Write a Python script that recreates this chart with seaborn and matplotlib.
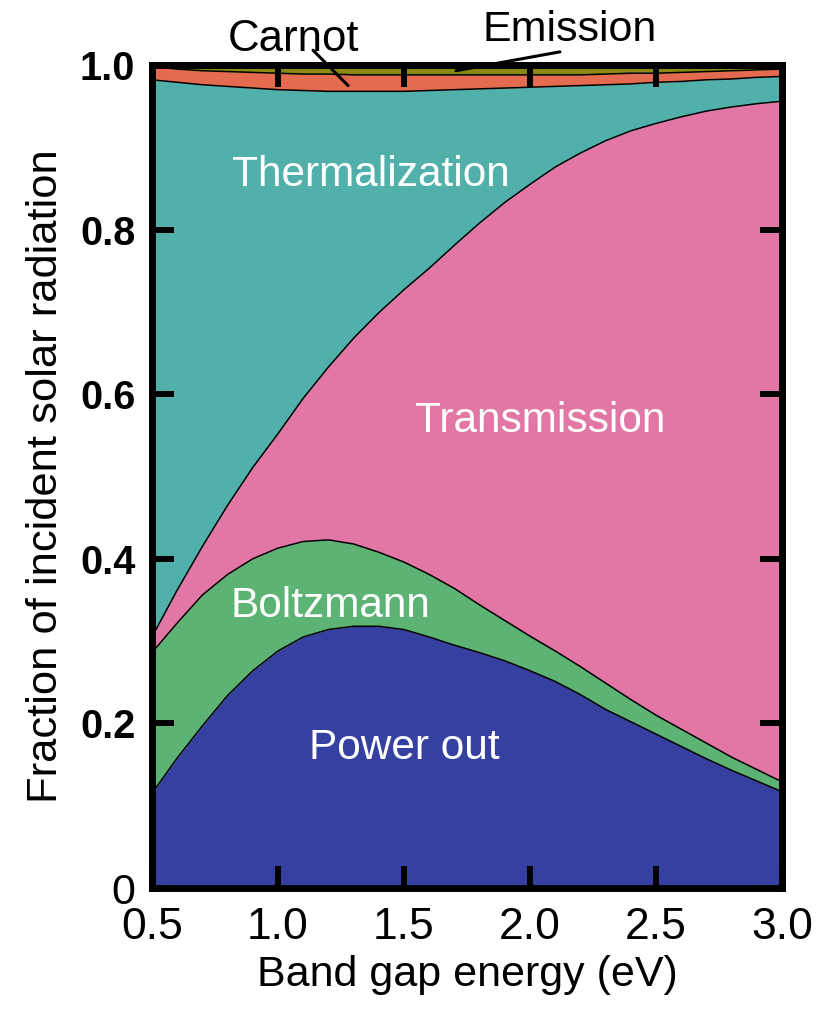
import matplotlib
matplotlib.use("Agg")
import matplotlib.pyplot as plt
import numpy as np
import pandas as pd
import seaborn as sns

# Band gap energies (eV)
band_gap = [0.5, 0.6, 0.7, 0.8, 0.9, 1.0, 1.1, 1.2, 1.3, 1.4, 1.5, 1.6, 1.7,
            1.8, 1.9, 2.0, 2.1, 2.2, 2.3, 2.4, 2.5, 2.6, 2.7, 2.8, 2.9, 3.0]

# Cumulative upper edge of each loss band (fraction of incident radiation)
power_out = [0.115, 0.158, 0.197, 0.234, 0.264, 0.288, 0.305, 0.314, 0.318,
             0.318, 0.314, 0.305, 0.295, 0.286, 0.276, 0.264, 0.251, 0.235,
             0.217, 0.202, 0.187, 0.172, 0.157, 0.143, 0.130, 0.117]
boltzmann_top = [0.286, 0.322, 0.356, 0.381, 0.400, 0.413, 0.421, 0.423,
                 0.418, 0.408, 0.396, 0.381, 0.364, 0.344, 0.325, 0.306,
                 0.288, 0.269, 0.249, 0.229, 0.210, 0.193, 0.176, 0.159,
                 0.144, 0.129]
transmission_top = [0.305, 0.362, 0.415, 0.465, 0.511, 0.552, 0.595, 0.633,
                    0.668, 0.699, 0.727, 0.753, 0.781, 0.808, 0.833, 0.855,
                    0.876, 0.893, 0.908, 0.920, 0.929, 0.937, 0.944, 0.949,
                    0.953, 0.956]
thermalization_top = [0.982, 0.979, 0.976, 0.974, 0.972, 0.970, 0.969, 0.968,
                      0.968, 0.968, 0.968, 0.969, 0.970, 0.971, 0.972, 0.973,
                      0.974, 0.975, 0.976, 0.977, 0.979, 0.980, 0.982, 0.983,
                      0.985, 0.986]
carnot_top = [0.998, 0.995, 0.993, 0.992, 0.991, 0.990, 0.989, 0.989, 0.988,
              0.988, 0.988, 0.988, 0.988, 0.988, 0.988, 0.988, 0.988, 0.988,
              0.989, 0.990, 0.990, 0.991, 0.992, 0.993, 0.994, 0.995]
emission_top = [1.0, 1.0, 1.0, 1.0, 1.0, 1.0, 1.0, 1.0, 1.0, 1.0, 1.0, 1.0,
                1.0, 1.0, 1.0, 1.0, 1.0, 1.0, 1.0, 1.0, 1.0, 1.0, 1.0, 1.0,
                1.0, 1.0]

band_names = ["Power out", "Boltzmann", "Transmission", "Thermalization",
              "Carnot", "Emission"]
x_ticks = [0.5, 1.0, 1.5, 2.0, 2.5, 3.0]
x_tick_labels = ["0.5", "1.0", "1.5", "2.0", "2.5", "3.0"]
y_ticks = [0.0, 0.2, 0.4, 0.6, 0.8, 1.0]
y_tick_labels = ["0", "0.2", "0.4", "0.6", "0.8", "1.0"]

sns.set_style("ticks")
font = ["Liberation Sans", "DejaVu Sans"]
plt.rcParams["font.family"] = font
plt.rcParams["text.color"] = "black"
plt.rcParams["axes.labelcolor"] = "black"
plt.rcParams["xtick.color"] = "black"
plt.rcParams["ytick.color"] = "black"

df = pd.DataFrame({
    "band_gap": band_gap,
    "Power out": power_out,
    "Boltzmann": boltzmann_top,
    "Transmission": transmission_top,
    "Thermalization": thermalization_top,
    "Carnot": carnot_top,
    "Emission": emission_top,
})

colors = {
    "Power out": "#3640a0",
    "Boltzmann": "#5db374",
    "Transmission": "#e277a6",
    "Thermalization": "#52b0aa",
    "Carnot": "#e46b4f",
    "Emission": "#8a8a12",
}

fig = plt.figure(figsize=(8.21, 10.09), dpi=100)
ax = fig.add_axes([152 / 821, 1 - 888 / 1009, 630 / 821, 823 / 1009])
ax.set_axisbelow(False)

lower = np.zeros(len(df))
for name in band_names:
    upper = df[name].to_numpy()
    ax.fill_between(df["band_gap"], lower, upper, color=colors[name],
                    linewidth=0, zorder=1)
    lower = upper

# thin black boundaries between the bands
for name in band_names[:-1]:
    sns.lineplot(data=df, x="band_gap", y=name, color="black", linewidth=1.1,
                 ax=ax, zorder=2)

# in-band labels
inside = [("Thermalization", 1.37, 0.866),
          ("Transmission", 2.04, 0.568),
          ("Boltzmann", 1.21, 0.343),
          ("Power out", 1.5, 0.170)]
for text, tx, ty in inside:
    ax.text(tx, ty, text, color="white", fontsize=30.5, ha="center",
            va="center", zorder=3)

# callouts for the thin bands at the top
ax.annotate("", xy=(1.278, 0.975), xytext=(1.139, 1.018),
            arrowprops=dict(arrowstyle="-", color="black", lw=2.2,
                            shrinkA=0, shrinkB=0),
            annotation_clip=False, zorder=4)
ax.annotate("", xy=(1.706, 0.993), xytext=(2.119, 1.016),
            arrowprops=dict(arrowstyle="-", color="black", lw=2.2,
                            shrinkA=0, shrinkB=0),
            annotation_clip=False, zorder=4)
ax.text(1.06, 1.031, "Carnot", fontsize=31.5, ha="center", va="center",
        clip_on=False)
ax.text(2.159, 1.043, "Emission", fontsize=31, ha="center", va="center",
        clip_on=False)

ax.set_xlim(0.5, 3.0)
ax.set_ylim(0, 1.0)
ax.set_xticks(x_ticks)
ax.set_xticklabels(x_tick_labels, fontsize=32)
ax.set_yticks(y_ticks)
ax.set_yticklabels(y_tick_labels, fontsize=28.5)
for lab in ax.get_yticklabels():
    if lab.get_text() != "0":
        lab.set_fontweight("bold")
    else:
        lab.set_fontsize(31)

ax.tick_params(direction="in", length=16, width=4.3, top=True, right=True,
               color="black")
ax.tick_params(axis="x", pad=14)
ax.tick_params(axis="y", pad=12)
for side in ["left", "right", "top", "bottom"]:
    ax.spines[side].set_linewidth(5)
    ax.spines[side].set_color("black")
    ax.spines[side].set_zorder(6)

ax.set_xlabel("Band gap energy (eV)", fontsize=31, labelpad=5)
ax.set_ylabel("Fraction of incident solar radiation", fontsize=31.3,
              labelpad=10)

fig.savefig("out.png", dpi=100)
